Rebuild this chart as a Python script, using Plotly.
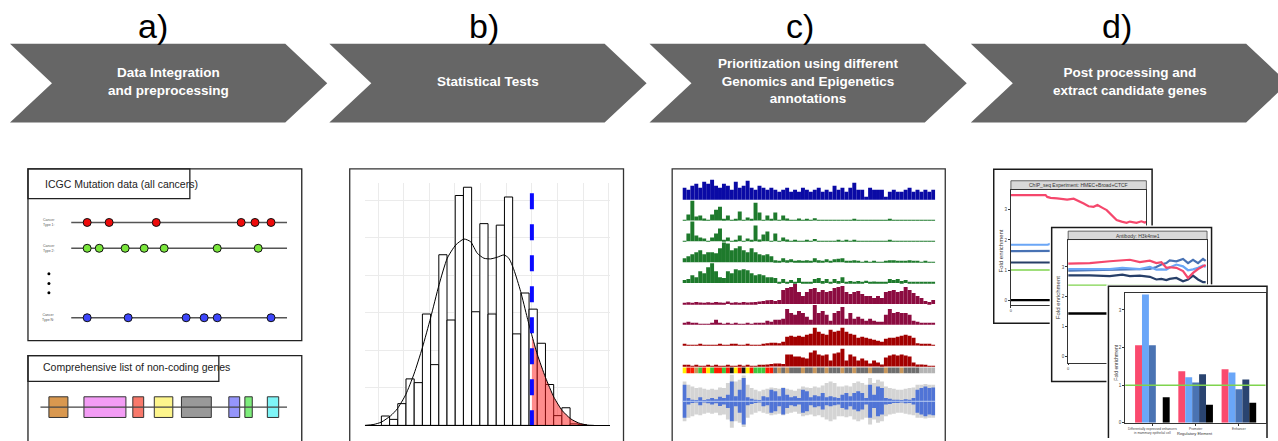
import numpy as np
import plotly.graph_objects as go

W, H = 1278, 441
FONT = "Liberation Sans, Arial, sans-serif"

# ---------------- data ----------------
step_labels = ["a)", "b)", "c)", "d)"]
step_titles = ["Data Integration<br>and preprocessing",
               "Statistical Tests",
               "Prioritization using different<br>Genomics and Epigenetics<br>annotations",
               "Post processing and<br>extract candidate genes"]

cancer_types = ["Cancer<br>Type 1:", "Cancer<br>Type 2:", "Cancer<br>Type N:"]
mut_type1 = [19.0, 27.9, 47.0, 81.4, 87.0, 93.5]
mut_type2 = [19.0, 23.9, 34.4, 42.1, 50.2, 71.7, 88.3]
mut_typeN = [19.0, 35.6, 59.1, 66.4, 71.7, 93.5]
mutation_colors = ["#ee0a0a", "#7ae63c", "#3d46fb"]

gene_start = [3.5, 17.7, 37.5, 46.2, 57.2, 76.4, 82.9, 92.0]
gene_end = [11.2, 34.7, 41.9, 53.7, 69.3, 80.8, 85.9, 96.6]
gene_colors = ["#d9984f", "#f39cf5", "#f8796b", "#fdf58c", "#999999", "#9595fb", "#7ded7b", "#7ef5f7"]

hist_counts = [2.5, 1.6, 5.8, 12.4, 11.4, 29.7, 16.2, 45.5, 28.1, 61.3, 63.5, 30.3, 53.8,
               29.7, 53.4, 60.9, 24.4, 35.3, 31, 21.9, 10.9, 2.6, 4.7, 0.4, 0.2]
HIST_BIN0, HIST_BINW = 0.13, 0.32
density_x = [-0.52, -0.16, 0.13, 0.49, 0.75, 1.08, 1.40, 1.73, 2.05, 2.38, 2.70, 3.03, 3.35,
             3.61, 3.87, 4.13, 4.39, 4.65, 4.91, 5.10, 5.30, 5.56, 5.82, 5.99, 6.21, 6.53,
             6.86, 7.18, 7.51, 7.83, 8.16, 8.42]
density_y = [0, 0.26, 0.88, 2.56, 4.41, 8.21, 13.68, 20.74, 28.68, 37.51, 44.57, 48.10, 49.69,
             48.98, 45.90, 44.57, 44.40, 44.84, 45.45, 44.57, 41.48, 35.75, 28.68, 24.27, 18.98,
             12.80, 7.50, 3.97, 1.77, 0.62, 0.09, 0]
threshold = 6.0
threshold_top = 61.9

# genome browser tracks (signal 0-10)
trk_dnase = [6,5,7,8,6,9,8,10,7,6,8,7,5,9,6,7,9.5,6,5,7,6,5,6,5,4,5,6,4,5,4,6,5,4,5,6,4,5,4,7,5,
             6,4,6,8.5,5,5,1.5,6,5,5,5,1.5,4,5,4,4,5,6,4,5,4,5,4,5]
trk_g1 = [0.2,3,10,2,2.5,1,0.3,3,5.5,7,0.5,2.5,0.3,0.5,4.5,0.3,1.5,0.8,9,4,0.3,2.5,0.5,4,0.2,2.5,1,
          0.2,0.1,1,0.1,0.7,0.1,1.2,0.1,0.1,0.3,0.1,0.1,0.3,0.1,0.1,0.1,0.7,0.1,0.1,0.3,0.1,0.1,0.1,
          0.1,0.1,0.8,0.1,0.1,0.1,0.2,0.1,0.1,0.1,0.1,0.1,0.1,0.1]
trk_g2 = [0.2,4,10,3,2,1.5,0.3,2,4,6.5,0.5,2,0.3,0.5,3,0.3,1.5,0.5,8,1,3.5,5,0.3,4,0.2,2,1,0.2,0.7,
          0.1,0.1,0.8,0.1,1.2,0.1,0.1,0.3,0.1,0.1,0.5,0.1,0.5,0.1,0.7,0.1,0.1,0.3,0.1,0.1,0.1,0.1,
          0.1,0.8,0.1,0.1,0.1,0.1,0.1,0.1,0.1,0.1,0.1,0.1,0.1]
trk_g3 = [2,3,4,5,6,4,5,5,4.5,7,10,9.5,6,7,8,6,5,7,5,4,3.5,4,3,1,0.3,2,1,1.5,0.5,1,0.3,1,0.5,2,1,
          0.5,1.5,0.3,1.5,1.8,2,0.5,0.3,1,0.5,0.2,0.5,0.2,0.8,0.2,0.2,0.3,1,1,0.8,0.3,0.8,1,0.5,0.3,
          0.2,0.3,0.2,0.2]
trk_g4 = [1.5,2,4,3,6,5,8,10,6,3,2.5,6,5,7,6.5,7,6.5,5,4,4.5,4,3,3,2.5,0.3,2,0.5,1.5,0.3,2.5,0.5,
          0.3,0.5,2,2.5,1,2,0.3,2,1,3,0.5,1,0.3,1,0.3,1.2,0.3,0.8,0.2,0.3,0.5,2,1.5,2,1,1.5,0.5,0.5,
          0.2,0.2,0.2,0.2,0.2]
trk_m1 = [0.5,0.8,0.6,1,0.7,0.5,0.8,0.6,1,0.7,0.5,1.2,0.6,0.8,0.5,1,0.7,0.8,1,1.2,1.5,1.8,2,1.5,2,
          7,8,8.5,10,6,4,6,7.5,8,6,7,6,6.5,8,8.5,9,6,5,6,6.5,5,4,4,3,4,3,6,6.5,7,6,6.5,8.5,7,5.5,4,
          3,1.5,1,2]
trk_m2 = [0.8,1.5,0.5,0.5,0.3,0.3,0.3,0.5,2.5,0.5,0.3,0.5,0.3,0.8,0.3,0.3,0.5,0.3,0.8,1,0.8,2,1.5,
          2.5,2.5,3,8,6,5,7,6,4,2.5,10,6,7,5,2,6,7,9,3,6,3,4,3,2,3,2,1.5,1.5,5,8,6,6.5,6,6,5,2,1.5,
          1,1,0.8,0.5]
trk_r1 = [0.5,0.3,0.4,0.3,0.5,0.3,0.4,0.3,0.3,0.5,0.3,0.4,0.6,0.5,0.4,0.3,0.5,0.4,0.3,0.4,0.5,1.2,
          1.5,1.5,1.2,2,4.5,5,4.5,5,4.5,5.5,6,9,7,6,5.5,8,7,7.5,9,7,6,5.5,4,4.5,4,3.5,3,2.5,2,3.5,
          4,4,4.5,5,5.5,5,4,1.2,1,1,0.5,0.3]
trk_r2 = [0.8,0.5,0.3,0.4,0.3,0.3,0.4,0.3,0.5,0.3,0.3,0.4,0.3,0.3,0.5,0.3,0.4,0.3,0.3,0.4,0.5,1,
          1.2,1.5,1.5,1.2,6,6,5,5,4.5,4,7,8,6,5.5,6,3,6.5,7,9,3,6,5,3,4,3,1.5,3,2,1,4.5,5.5,6,5.5,
          6,5.5,5,2,1,1,0.8,0.3,0.3]
track_signals = [trk_dnase, trk_g1, trk_g2, trk_g3, trk_g4, trk_m1, trk_m2, trk_r1, trk_r2]
track_colors = ["#0a0aa5", "#1e7a2c", "#1e7a2c", "#1e7a2c", "#1e7a2c",
                "#8c0c40", "#8c0c40", "#a30000", "#a30000"]

strip_states = list("YRROGRYGRR" "GRKYRKYRGG" "GRRDODODDD" "ODDODDODDD"
                    "ODDODDDODD" "DODDDODDDD" "LLLL")
strip_palette = {"Y": "#fff000", "R": "#ff1a00", "G": "#3cc83c", "K": "#111111",
                 "O": "#c8965a", "D": "#6e6e6e", "L": "#b4b4b4"}

wave_blue = [50,10,5,4,12,4,6,10,6,14,10,20,60,15,35,70,12,8,5,4,15,12,35,30,15,40,20,12,15,10,
             35,30,12,18,15,25,12,15,12,10,20,25,15,25,30,25,10,50,20,45,40,10,8,5,5,4,6,5,10,35,
             40,45,40,42]
wave_grey = [60,50,45,40,42,38,35,38,35,42,40,55,80,60,65,78,50,40,35,30,35,38,42,40,38,42,38,35,
             32,38,45,42,40,45,42,48,55,60,55,45,45,48,45,55,60,55,50,70,55,65,60,45,40,38,35,35,
             38,40,42,50,50,52,50,50]

# profile 1 : ChIP_seq Experiment HMEC+Broad+CTCF
p1_pink_x = [0, 1.2, 25.6, 26.8, 29.3, 34.1, 41.5, 46.3, 50, 53.7, 57.3, 61, 63.9, 65.9, 68.3,
             70.7, 73.2, 75.6, 78, 81.7, 85.4, 87.8, 92.7, 96.3, 98.8, 100]
p1_pink_y = [3.49, 3.49, 3.49, 3.43, 3.40, 3.38, 3.34, 3.37, 3.30, 3.21, 3.12, 3.10, 3.16, 3.12,
             3.05, 2.99, 2.88, 2.77, 2.66, 2.61, 2.57, 2.61, 2.57, 2.62, 2.58, 2.60]
p1_flat_x = [0, 27, 29, 100]
p1_lblue = [1.84, 1.84, 1.87, 1.87]
p1_mblue = [1.63, 1.63, 1.65, 1.65]
p1_navy = [1.25, 1.25, 1.25, 1.25]
p1_green = [1.0, 1.0, 1.0, 1.0]
p1_black = [0.0, 0.0, 0.0, 0.0]

# profile 2 : Antibody H3k4me1
p2_x = [0, 15.6, 30, 39, 44.4, 51.6, 58.8, 63.5, 67.1, 70.7, 73.1, 77.9, 82.7, 86.3, 89.9,
        93.5, 97.1, 99]
p2_pink = [3.11, 3.13, 3.19, 3.22, 3.24, 3.16, 3.21, 3.13, 3.16, 2.97, 2.99, 2.97, 2.86, 2.63,
           2.80, 2.93, 3.02, 3.07]
p2_lblue = [2.93, 2.94, 2.93, 2.97, 2.95, 2.93, 3.00, 2.91, 2.92, 2.91, 2.98, 3.08, 3.02, 2.89,
            2.92, 2.97, 3.05, 3.00]
p2_mblue = [2.88, 2.89, 2.91, 2.93, 2.92, 2.93, 2.93, 3.00, 3.08, 3.13, 3.22, 3.19, 3.27, 3.13,
            3.24, 3.13, 3.27, 3.20]
p2_navy = [2.72, 2.72, 2.69, 2.74, 2.69, 2.71, 2.67, 2.58, 2.60, 2.56, 2.60, 2.63, 2.52, 2.58,
           2.71, 2.58, 2.49, 2.49]
p2_green = [2.39] * 2
p2_black = [1.44] * 2

# barplot : fold enrichment per regulatory element
reg_elements = ["Differentially expressed enhancers<br>in mammary epithelial cell",
                "Promoter", "Enhancer"]
enrich_pink = [2.06, 1.37, 1.42]
enrich_lblue = [3.41, 1.21, 1.34]
enrich_mblue = [2.06, 1.07, 0.89]
enrich_navy = [None, 1.29, 1.15]
enrich_black = [0.68, 0.48, 0.53]

PINK, LBLUE, MBLUE, NAVY, GREEN = "#f5476c", "#6ba6f6", "#4872b4", "#273f68", "#7fd34e"

# ---------------- helpers ----------------
def xd(a, b):
    return [max(0, a / W), min(1, b / W)]

def yd(top, bottom):
    return [max(0, 1 - bottom / H), min(1, 1 - top / H)]

def P(x, y):
    return x / W, 1 - y / H

def prect(x0, y0, x1, y1, **kw):
    a, b = P(x0, y0)
    c, d = P(x1, y1)
    return dict(type="rect", xref="paper", yref="paper", x0=a, y0=b, x1=c, y1=d, **kw)

def ann(x, y, text, size, color="#000", xanchor="center", angle=0, family=FONT):
    a, b = P(x, y)
    return dict(xref="paper", yref="paper", x=a, y=b, text=text, showarrow=False,
                xanchor=xanchor, yanchor="middle", textangle=angle,
                font=dict(size=size, color=color, family=family))

fig = go.Figure()
layout_axes = {}
shapes, annotations = [], []

def axname(n, kind):
    return kind if n == 1 else f"{kind}{n}"

def add_axes(n, xdom, ydom, xr, yr, xo=None, yo=None):
    xa = dict(domain=xdom, range=xr, anchor=axname(n, "y"), visible=False, fixedrange=True,
              showgrid=False, zeroline=False)
    ya = dict(domain=ydom, range=yr, anchor=axname(n, "x"), visible=False, fixedrange=True,
              showgrid=False, zeroline=False)
    if xo:
        xa.update(xo)
    if yo:
        ya.update(yo)
    layout_axes[("xaxis" if n == 1 else f"xaxis{n}")] = xa
    layout_axes[("yaxis" if n == 1 else f"yaxis{n}")] = ya

def ref(n):
    return dict(xaxis=axname(n, "x"), yaxis=axname(n, "y"))

# ---------------- header chevrons ----------------
for i, L in enumerate([9, 328.6, 649, 970.6]):
    T, B, M = 44, 123.3, 83.7
    pts = [(L, T), (L + 275.5, T), (L + 317.5, M), (L + 275.5, B), (L, B), (L + 42, M)]
    path = "M " + " L ".join(f"{x / W:.5f},{1 - y / H:.5f}" for x, y in pts) + " Z"
    shapes.append(dict(type="path", xref="paper", yref="paper", path=path,
                       fillcolor="#666666", line=dict(width=0), layer="below"))
    cx = L + 159
    annotations.append(ann(cx, 82, "<b>" + step_titles[i] + "</b>", 13.5, "white"))
for lbl, x in zip(step_labels, [152, 483, 800, 1117]):
    annotations.append(ann(x, 26, lbl, 34, "#000"))

# ---------------- panel a ----------------
shapes += [prect(27, 170, 301, 343, line=dict(color="#222", width=1.3), layer="below"),
           prect(27, 170, 189, 200, line=dict(color="#222", width=1.3), layer="below"),
           prect(27, 358, 301, 470, line=dict(color="#222", width=1.3), layer="below"),
           prect(27, 358, 218, 384, line=dict(color="#222", width=1.3), layer="below")]
annotations.append(ann(42, 185, "ICGC Mutation data (all cancers)", 10.5, "#222", "left"))
annotations.append(ann(40, 370, "Comprehensive list of non-coding genes", 10.5, "#222", "left"))
for lbl, y in zip(cancer_types, [224, 250, 320]):
    annotations.append(ann(48, y, lbl, 3.5, "#555"))

add_axes(1, xd(39.3, 286.3), yd(205, 425), [0, 100], [7.73, -0.73])
row_y = [0, 1, 3.69]
for muts, col, ry in zip([mut_type1, mut_type2, mut_typeN], mutation_colors, row_y):
    fig.add_trace(go.Scatter(x=[12.55, 100], y=[ry, ry], mode="lines",
                             line=dict(color="#555", width=1.5), hoverinfo="skip", **ref(1)))
    fig.add_trace(go.Scatter(x=muts, y=[ry] * len(muts), mode="markers",
                             marker=dict(size=8, color=col, line=dict(color="#111", width=1)),
                             hoverinfo="skip", **ref(1)))
fig.add_trace(go.Scatter(x=[3.5, 3.5, 3.5], y=[1.99, 2.36, 2.72], mode="markers",
                         marker=dict(size=3, color="#000"), hoverinfo="skip", **ref(1)))
GENE_ROW = 7.15
fig.add_trace(go.Scatter(x=[0, 100], y=[GENE_ROW, GENE_ROW], mode="lines",
                         line=dict(color="#444", width=1.2), hoverinfo="skip", **ref(1)))
fig.add_trace(go.Bar(orientation="h", y=[GENE_ROW] * len(gene_start),
                     x=[e - s for s, e in zip(gene_start, gene_end)], base=gene_start,
                     width=0.8, marker=dict(color=gene_colors, line=dict(color="#333", width=1)),
                     hoverinfo="skip", **ref(1)))

# ---------------- panel b : histogram ----------------
shapes.append(prect(349, 170, 623, 470, line=dict(color="#333", width=1.3), layer="below"))
add_axes(2, xd(364, 609.3), yd(184, 428.3), [-0.52, 9.04], [0, 64.7],
         xo=dict(visible=True, showgrid=True, gridcolor="#ebebeb", gridwidth=1, dtick=1, tick0=0,
                 showticklabels=False, ticks="", showline=True, linecolor="#000", linewidth=1.2),
         yo=dict(visible=True, showgrid=True, gridcolor="#ebebeb", gridwidth=1, dtick=10, tick0=0,
                 showticklabels=False, ticks="", showline=False))
centers = HIST_BIN0 + HIST_BINW * (np.arange(len(hist_counts)) + 0.5)
fig.add_trace(go.Bar(x=centers, y=hist_counts, width=HIST_BINW,
                     marker=dict(color="white", line=dict(color="#000", width=1)),
                     hoverinfo="skip", **ref(2)))
dx = np.array(density_x)
dy = np.array(density_y)
mask = dx > threshold
fx = np.concatenate([[threshold, threshold], dx[mask], [dx[mask][-1]]])
fy = np.concatenate([[0, np.interp(threshold, dx, dy)], dy[mask], [0]])
fig.add_trace(go.Scatter(x=fx, y=fy, mode="lines", fill="toself",
                         fillcolor="rgba(255,25,25,0.5)", line=dict(width=0),
                         hoverinfo="skip", **ref(2)))
fig.add_trace(go.Scatter(x=density_x, y=density_y, mode="lines",
                         line=dict(color="#000", width=1, shape="spline", smoothing=0.6),
                         hoverinfo="skip", **ref(2)))
fig.add_trace(go.Scatter(x=[threshold, threshold], y=[threshold_top, 0], mode="lines",
                         line=dict(color="#0a0aff", width=4, dash="16px,15px"),
                         hoverinfo="skip", **ref(2)))

# ---------------- panel c : genome browser ----------------
shapes.append(prect(671.7, 170, 945, 470, line=dict(color="#333", width=1.3), layer="below"))
NB = 64
add_axes(3, xd(682, 935), yd(179, 433), [0, NB], [-11.05, 1.05])
for i, (sig, col) in enumerate(zip(track_signals, track_colors)):
    n = len(sig)
    bw = NB / n
    fig.add_trace(go.Bar(x=(np.arange(n) + 0.5) * bw, y=np.array(sig) * 0.095, base=-i,
                         width=bw, marker=dict(color=col, line=dict(width=0)),
                         hoverinfo="skip", **ref(3)))
ns = len(strip_states)
fig.add_trace(go.Bar(x=(np.arange(ns) + 0.5) * NB / ns, y=[0.28] * ns, base=-8.33,
                     width=NB / ns, marker=dict(color=[strip_palette[s] for s in strip_states],
                                                line=dict(width=0)),
                     hoverinfo="skip", **ref(3)))
WAVE_C, WAVE_U = -9.67, 1 / 63
for amp, col in [(wave_grey, "#d4d4d4"), (wave_blue, "#5074d6")]:
    a = np.array(amp) * WAVE_U
    n = len(a)
    fig.add_trace(go.Bar(x=(np.arange(n) + 0.5) * NB / n, y=2 * a, base=WAVE_C - a,
                         width=NB / n, marker=dict(color=col, line=dict(width=0)),
                         hoverinfo="skip", **ref(3)))
fig.add_trace(go.Scatter(x=[0, NB], y=[WAVE_C, WAVE_C], mode="lines",
                         line=dict(color="#b8cdf2", width=1), hoverinfo="skip", **ref(3)))

# ---------------- panel d : result cards ----------------
def card_frame(n, L, T, R, B, strip=None, strip_text=None):
    add_axes(n, xd(L - 2, R + 2), yd(T - 2, min(B + 2, H)), [L - 2, R + 2],
             [min(B + 2, H), T - 2])
    fig.add_trace(go.Scatter(x=[None], y=[None], hoverinfo="skip", **ref(n)))
    shapes.append(dict(type="rect", xref=axname(n, "x"), yref=axname(n, "y"),
                       x0=L, y0=T, x1=R, y1=B + 30 if B + 2 > H else B, fillcolor="white",
                       line=dict(color="#1a1a1a", width=1.5), layer="below"))
    if strip:
        sx0, sy0, sx1, sy1 = strip
        shapes.append(dict(type="rect", xref=axname(n, "x"), yref=axname(n, "y"),
                           x0=sx0, y0=sy0, x1=sx1, y1=sy1, fillcolor="#d9d9d9",
                           line=dict(color="#444", width=0.8), layer="below"))
        annotations.append(ann((sx0 + sx1) / 2, (sy0 + sy1) / 2, strip_text, 5, "#333"))

def plot_axes(n, xdom, ydom, xr, yr, xticks, yticks, xtext=None, xfont=4):
    box = dict(visible=True, showline=True, mirror=True, linecolor="#333", linewidth=0.8,
               ticks="outside", ticklen=2, tickcolor="#333", showgrid=False, zeroline=False)
    xo = dict(box, tickvals=xticks, ticktext=xtext or [str(t) for t in xticks],
              tickfont=dict(size=xfont, color="#444", family=FONT))
    yo = dict(box, tickvals=yticks, ticktext=[str(t) for t in yticks],
              tickfont=dict(size=4.5, color="#444", family=FONT))
    add_axes(n, xdom, ydom, xr, yr, xo=xo, yo=yo)

def line(n, x, y, col, w=2.2):
    fig.add_trace(go.Scatter(x=x, y=y, mode="lines", line=dict(color=col, width=w),
                             hoverinfo="skip", **ref(n)))

# card 1
card_frame(4, 993.5, 170.5, 1152, 325.5, (1010.7, 182, 1146.3, 191),
           "ChIP_seq Experiment: HMEC+Broad+CTCF")
plot_axes(5, xd(1010.7, 1146.3), yd(191, 306.7), [0, 100], [-0.15, 3.67], [0], [0, 1, 2, 3])
line(5, p1_flat_x, p1_black, "#000", 2.4)
line(5, p1_flat_x, p1_green, GREEN, 1.3)
line(5, p1_flat_x, p1_navy, NAVY)
line(5, p1_flat_x, p1_mblue, MBLUE)
line(5, p1_flat_x, p1_lblue, LBLUE)
line(5, p1_pink_x, p1_pink_y, PINK)
annotations.append(ann(1001, 253, "Fold enrichment", 6, "#333", angle=-90))

# card 2
card_frame(6, 1051.5, 229, 1211.5, 384, (1068, 232.7, 1207, 241.7), "Antibody: H3k4me1")
plot_axes(7, xd(1068, 1207), yd(241.7, 365), [0, 100], [-0.2, 3.9], [0], [0, 1, 2, 3])
line(7, [0, 100], p2_black, "#000", 2.4)
line(7, [0, 100], p2_green, GREEN, 1.3)
line(7, p2_x, p2_navy, NAVY)
line(7, p2_x, p2_mblue, MBLUE)
line(7, p2_x, p2_lblue, LBLUE)
line(7, p2_x, p2_pink, PINK)
annotations.append(ann(1058, 300, "Fold enrichment", 6, "#333", angle=-90))

# card 3
card_frame(8, 1108.3, 288.3, 1267, 460)
plot_axes(9, xd(1125, 1265.7), yd(295, 425.7), [-0.63, 2.62], [0, 3.45], [0, 1, 2], [0, 1, 2, 3],
          xtext=reg_elements, xfont=3.2)
xs = np.arange(len(reg_elements))
for j, (vals, col) in enumerate([(enrich_pink, "#fa4a6e"), (enrich_lblue, "#6aa6f8"),
                                 (enrich_mblue, "#4a73b3"), (enrich_navy, "#2a4470"),
                                 (enrich_black, "#000000")]):
    fig.add_trace(go.Bar(x=xs, y=vals, width=0.16, offset=-0.4 + 0.16 * j,
                         marker=dict(color=col, line=dict(width=0)), hoverinfo="skip", **ref(9)))
line(9, [-0.63, 2.62], [1, 1], GREEN, 1.5)
annotations.append(ann(1115, 365, "Fold enrichment", 5, "#333", angle=-90))
annotations.append(ann(1195, 436, "Regulatory Element", 4, "#333"))

fig.update_layout(width=W, height=H, margin=dict(l=0, r=0, t=0, b=0),
                  paper_bgcolor="white", plot_bgcolor="white", showlegend=False,
                  barmode="overlay", font=dict(family=FONT), shapes=shapes,
                  annotations=annotations, **layout_axes)
fig.write_html("out.html", config={"displayModeBar": False},
               post_script="document.body.style.margin='0px';document.body.style.overflow='hidden';")
